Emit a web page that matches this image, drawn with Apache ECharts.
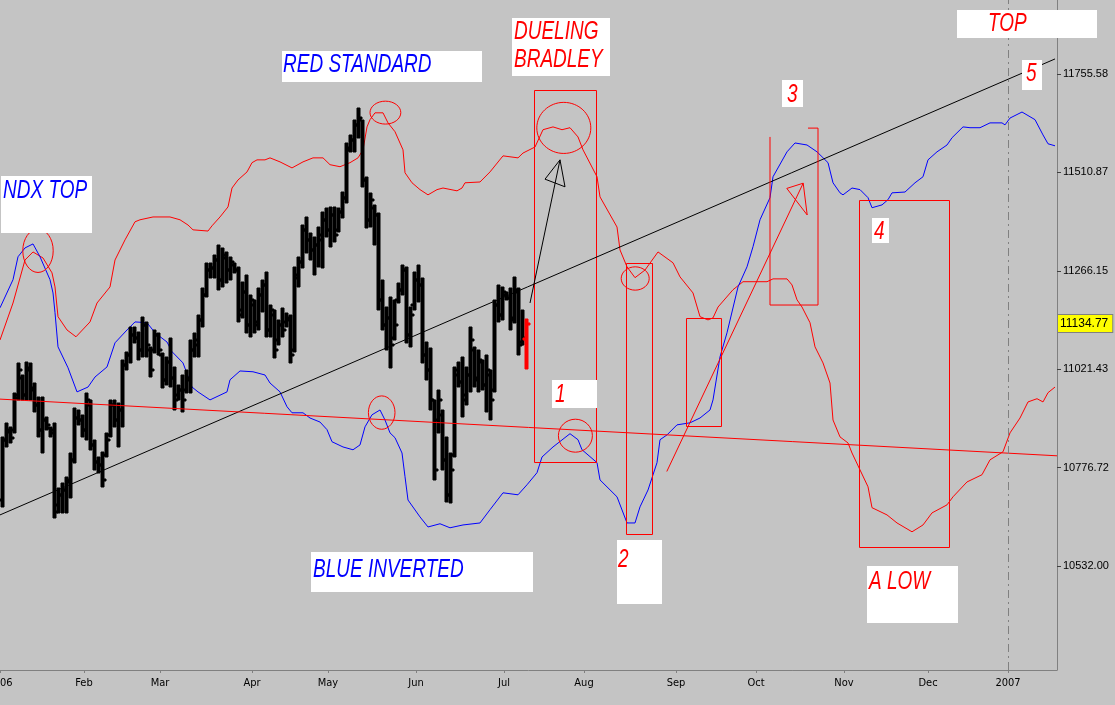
<!DOCTYPE html>
<html><head><meta charset="utf-8">
<script src="https://cdn.jsdelivr.net/npm/echarts@6/dist/echarts.min.js"></script>
<style>html,body{margin:0;padding:0;background:#c4c4c4;}#c{width:1115px;height:705px;}</style>
</head><body><div id="c"></div>
<script>
// ---- axis ticks ----
const tickDays = [-1, 20, 39, 62, 81, 103, 125, 145, 168, 188, 210, 231, 251];
const tickLabels = ['2006','Feb','Mar','Apr','May','Jun','Jul','Aug','Sep','Oct','Nov','Dec','2007'];
const priceTicks = [10532.00, 10776.72, 11021.43, 11266.15, 11510.87, 11755.58];
const lastClose = 11134.77;
const firstBarDay = -1;
// ---- daily OHLC (Dow, Dec 30 2005 .. Jul 11 2006) ----
const opens = [10697,10846,10866,10871,10958,11000,10958,11020,10975,10933,10871,10895,10876,10871,10684,10709,10721,10746,10796,10900,
10895,10871,10933,10833,10791,10784,10808,10858,10933,10895,10920,11032,11057,11107,11099,11070,11132,11070,11070,11107,
11057,10995,11040,11000,10958,10970,10970,10995,11070,11082,11144,11206,11269,11274,11293,11244,11298,11269,11281,11269,
11169,11214,11132,11181,11139,11206,11231,11119,11157,11094,11132,11139,11144,11070,11249,11288,11368,11343,11318,11331,
11343,11393,11368,11405,11368,11413,11448,11572,11592,11629,11642,11492,11393,11423,11405,11194,11132,11149,11099,11194,
11219,11269,11107,11181,11244,11231,11057,11020,10945,10895,10908,10796,10709,10808,11020,10990,10958,11007,11070,11000,
11040,10983,11007,10970,11181,11157,11206,11199,11149,11214,11089,11097];
const highs = [10853,10888,10878,10963,11037,11007,11040,11037,10987,10953,10953,10903,10878,10888,10726,10739,10754,10813,10925,10920,
10908,10963,10945,10846,10803,10816,10863,10945,10945,10938,11045,11065,11127,11127,11114,11152,11139,11077,11119,11112,
11062,11052,11099,11027,10983,11007,11020,11094,11112,11157,11224,11286,11286,11306,11331,11323,11313,11301,11286,11276,
11239,11256,11206,11194,11224,11244,11264,11181,11169,11144,11174,11162,11157,11276,11301,11380,11400,11360,11351,11375,
11413,11423,11425,11425,11423,11462,11584,11604,11642,11671,11642,11500,11460,11430,11410,11244,11176,11201,11194,11236,
11281,11276,11176,11264,11281,11249,11089,11075,10945,10970,10920,10853,10813,11027,11040,11052,11027,11127,11077,11070,
11045,11057,11020,11194,11231,11226,11214,11224,11251,11224,11169,11147];
const lows = [10679,10828,10838,10863,10945,10945,10945,10945,10915,10853,10813,10871,10853,10652,10664,10664,10664,10701,10789,10883,
10853,10846,10821,10771,10764,10729,10803,10853,10878,10828,10878,11020,11037,11087,11045,11052,11052,11002,11062,11057,
10975,10983,10978,10920,10945,10915,10963,10963,11052,11052,11127,11201,11249,11249,11219,11226,11236,11244,11261,11139,
11149,11112,11102,11112,11119,11164,11102,11102,11050,11082,11102,11127,11037,11065,11226,11273,11311,11293,11256,11276,
11273,11351,11326,11338,11363,11398,11435,11562,11562,11597,11475,11373,11375,11331,11169,11119,11070,11025,11094,11186,
11206,11087,11077,11169,11189,11037,10995,10920,10746,10863,10771,10692,10689,10803,10978,10903,10933,10965,10978,10965,
10970,10915,10895,10965,11139,11144,11194,11119,11137,11057,11082,11022];
const closes = [10846,10871,10851,10950,11020,10958,11025,10970,10933,10871,10895,10883,10863,10667,10709,10721,10741,10796,10900,10895,
10871,10945,10833,10791,10784,10746,10846,10933,10895,10920,11032,11057,11107,11099,11070,11132,11082,11020,11107,11070,
10995,11040,11000,10945,10970,10945,11000,11070,11094,11144,11206,11269,11274,11293,11244,11306,11269,11288,11269,11157,
11214,11132,11194,11132,11206,11231,11119,11169,11070,11132,11119,11149,11057,11256,11288,11368,11343,11318,11331,11356,
11393,11368,11405,11356,11413,11448,11567,11592,11629,11647,11492,11393,11443,11405,11194,11132,11149,11082,11132,11219,
11269,11107,11157,11244,11231,11057,11020,10945,10771,10945,10796,10709,10771,11007,10990,10945,11007,11094,10995,11045,
10983,11020,10945,11181,11157,11214,11199,11144,11219,11082,11099,11134.77];
// ---- Bradley siderograph, red = standard ----
const redDays = [-1,2.25,5.25,7.25,9.75,12,12.75,13.5,15.75,18,21.5,23.25,26.5,27.75,30.25,32.75,34,37.25,41.5,44,46,47.25,51,52,54,56,57,58.5,60.75,62,63.25,65.25,66.5,69,72,74.75,77.25,79.75,81.5,84,86.5,88.5,89.75,90.75,91.5,92.75,94.75,96,97.75,99.75,100.25,102,104,106,108.25,109.75,113.25,114.5,115.25,119,121.5,124.75,128.5,129.75,132.75,134.75,137.25,139.5,141.5,143.5,144.75,148.25,149,153.25,154,155.75,157.75,160.25,163.5,167.25,169,172.25,174,176,177.25,178.5,182.25,184.75,190.75,192.25,195.75,197,198.25,199.5,201.5,202.75,204.75,206.5,207.25,209,211,212,214,216,217,220.75,223.25,227,229.75,232,235.75,237.25,240.75,244.5,246.5,249.75,251.5,254,256,258.25,259.75,261,262.75];
const redVals = [11094,11186,11293,11313,11298,11261,11226,11152,11119,11102,11139,11186,11226,11293,11343,11388,11393,11400,11400,11393,11380,11368,11365,11378,11400,11425,11472,11492,11512,11535,11542,11542,11547,11537,11522,11537,11547,11547,11530,11525,11535,11547,11567,11624,11642,11659,11659,11634,11612,11567,11510,11485,11468,11455,11468,11472,11465,11472,11485,11487,11512,11552,11547,11559,11574,11617,11624,11617,11622,11599,11567,11500,11450,11375,11318,11276,11249,11268,11313,11286,11251,11211,11152,11144,11149,11176,11219,11239,11239,11246,11246,11231,11194,11176,11137,11077,11037,10987,10895,10853,10838,10813,10771,10729,10677,10659,10639,10617,10634,10664,10684,10704,10741,10759,10796,10816,10863,10900,10940,10948,10940,10963,10977];
// ---- blue = inverted ----
const blueDays = [-1,2.25,3.5,5.25,7.25,9,11.5,12.25,12.75,13.5,16,18.25,21,22.75,25.75,27.75,30.75,32.75,35.75,37.75,40.75,42,44.75,47,48.5,51.5,55.75,56.5,59,62.25,65.25,66.5,69,70.75,72,74.75,76.5,79,80.75,82,84.75,87.25,89,90.25,92,94,95.25,96.5,97.75,99.5,100.25,101,104,106,109,111.5,114.75,119,121.5,124.75,128.5,130.75,133.25,134.5,137.25,141.5,143.5,144.5,148.25,149,153.25,155.75,157.75,159,161,163.25,164,165.75,168.25,171.5,174,176.5,177.25,179,180.75,183.5,185.75,187.25,189,191.5,192.25,195.75,197.75,200.75,203.25,206,207.25,209,209.75,212,214,216,217,219.5,221,222,225.25,227.75,229.75,231,233.25,235.75,237,239.75,241.5,244,246.5,249.5,250.25,251.5,254.5,257.75,259.75,261,262.75];
const blueVals = [11174,11244,11301,11323,11333,11301,11244,11211,11162,11077,11025,10965,10977,11002,11027,11087,11119,11139,11137,11112,11089,11065,11037,10977,10965,10945,10965,10995,11017,11015,11007,10987,10965,10928,10913,10913,10900,10890,10871,10841,10828,10821,10833,10878,10908,10920,10895,10863,10851,10813,10754,10696,10654,10629,10637,10627,10634,10639,10672,10714,10709,10734,10764,10803,10828,10861,10846,10821,10789,10746,10704,10639,10639,10679,10721,10789,10846,10858,10883,10888,10900,10920,10945,11052,11112,11226,11276,11326,11393,11448,11500,11562,11584,11579,11562,11535,11485,11460,11455,11472,11468,11448,11423,11430,11443,11460,11462,11485,11500,11542,11562,11579,11597,11624,11622,11622,11634,11634,11629,11646,11661,11642,11604,11582,11577];
// ---- hand-drawn annotations, in chart units [day, price] ----
const blackTrend = [[-1, 10659], [262.75, 11793]];
const redTrend = [[-1, 10947], [263.25, 10806]];
const boxes = [[132.5,11716,148,10791],[155.5,11286,162,10612],[170.5,11149,179.25,10880],[213.75,11442,236.25,10579]];
const openBox3 = [[191.5,11599],[191.5,11181],[203.5,11181],[203.5,11621],[201,11621]];
const rings = [[4.7,11370,12.3,11262],[91.5,11688,99.2,11631],[133.2,11685,146.7,11558],[138.6,10897,147.1,10815],[154.3,11276,161.3,11218],[91.1,10955,97.75,10872]];
const blackArrow = [[131.5,11186],[139,11542],[135.25,11494],[140.25,11475],[139,11542]];
const redArrow = [[165.7,10767],[199.8,11484],[195.7,11471],[200.8,11405],[199.8,11484]];

const barData = opens.map((o, i) => [firstBarDay + i, o, highs[i], lows[i], closes[i]]);
const lastIdx = barData.length - 1;
const zip = (a, b) => a.map((d, i) => [d, b[i]]);

const chart = echarts.init(document.getElementById('c'), null, {renderer: 'canvas'});
const FONT = "'Liberation Sans', Arial, sans-serif";
function note(x, y, w, h, lines, color, tx, ty) {
  const els = [{type: 'rect', x: x, y: y, shape: {x: 0, y: 0, width: w, height: h}, style: {fill: '#ffffff'}, z: 100}];
  lines.forEach((t, k) => els.push({type: 'text', x: tx, y: ty + k * 28, scaleX: 1, scaleY: 1.4, z: 101,
    style: {text: t, fill: color, font: 'italic 19px ' + FONT, textVerticalAlign: 'top', textAlign: 'left'}}));
  return els;
}
const graphics = [].concat(
  note(1, 176, 91, 57, ['NDX TOP'], '#0000ff', 3, 177),
  note(282, 51, 200, 31, ['RED STANDARD'], '#0000ff', 283, 51),
  note(512, 18, 98, 58, ['DUELING', 'BRADLEY'], '#ff0000', 514, 18),
  note(957, 10, 140, 28, ['TOP'], '#ff0000', 988, 10),
  note(1022, 60, 20, 30, ['5'], '#ff0000', 1026, 60),
  note(782, 80, 21, 27, ['3'], '#ff0000', 787, 81),
  note(552, 380, 45, 28, ['1'], '#ff0000', 555, 381),
  note(617, 540, 45, 64, ['2'], '#ff0000', 618, 546),
  note(872, 218, 17, 25, ['4'], '#ff0000', 874, 218),
  note(311, 552, 222, 40, ['BLUE INVERTED'], '#0000ff', 313, 556),
  note(867, 566, 91, 57, ['A LOW'], '#ff0000', 869, 568)
);

chart.setOption({
  animation: false,
  backgroundColor: '#c4c4c4',
  grid: {left: 0, right: 58, top: 0, bottom: 35, containLabel: false, outerBoundsMode: 'none'},
  xAxis: {
    type: 'value', min: -1, max: 263.25,
    axisLine: {show: true, onZero: false, lineStyle: {color: '#808080', width: 1}},
    axisTick: {show: true, length: 3, customValues: tickDays, lineStyle: {color: '#808080'}},
    axisLabel: {customValues: tickDays, formatter: v => tickLabels[tickDays.indexOf(v)] || '',
      color: '#000', fontSize: 11, fontFamily: "'Liberation Sans Narrow','DejaVu Sans Condensed','Liberation Sans',sans-serif", margin: 8},
    splitLine: {show: false}
  },
  yAxis: {
    type: 'value', position: 'right', min: 10273.3, max: 11939.6,
    axisLine: {show: true, onZero: false, lineStyle: {color: '#808080', width: 1}},
    axisTick: {show: true, length: 4, inside: false, customValues: priceTicks, lineStyle: {color: '#404040'}},
    axisLabel: {customValues: priceTicks, formatter: v => v.toFixed(2), color: '#000', fontSize: 11, fontFamily: FONT, margin: 6},
    splitLine: {show: false}
  },
  graphic: graphics,
  series: [
    {type: 'line', name: 'red', data: zip(redDays, redVals), showSymbol: false, symbol: 'none',
     lineStyle: {color: '#ff0000', width: 1}, z: 2, silent: true},
    {type: 'line', name: 'blue', data: zip(blueDays, blueVals), showSymbol: false, symbol: 'none',
     lineStyle: {color: '#0000ff', width: 1}, z: 2, silent: true},
    {type: 'custom', name: 'ohlc', data: barData, z: 3, silent: true,
     encode: {x: 0, y: [1, 2, 3, 4]},
     renderItem: function (params, api) {
       const d = api.value(0);
       const ph = api.coord([d, api.value(2)]);
       const pl = api.coord([d, api.value(3)]);
       const po = api.coord([d, api.value(1)]);
       const pc = api.coord([d, api.value(4)]);
       const cx = Math.round(ph[0]) + 1;
       const col = params.dataIndex === lastIdx ? '#ff0000' : '#000000';
       const yh = Math.round(ph[1]), yl = Math.round(pl[1]);
       const st = {fill: col, stroke: col, lineWidth: 1};
       return {type: 'group', children: [
         {type: 'rect', shape: {x: cx, y: yh, width: 3, height: Math.max(1, yl - yh)}, style: st},
         {type: 'rect', shape: {x: cx - 2, y: Math.round(po[1]) - 1, width: 2, height: 2}, style: st},
         {type: 'rect', shape: {x: cx + 3, y: Math.round(pc[1]) - 1, width: 2, height: 2}, style: st}
       ]};
     },
     markLine: {silent: true, symbol: ['none', 'none'], animation: false,
       data: [
         {yAxis: lastClose, lineStyle: {color: 'rgba(0,0,0,0)', width: 1},
          label: {show: true, position: 'end', distance: 1, formatter: '11134.77', color: '#000', fontSize: 12, fontFamily: FONT,
                  backgroundColor: '#ffff00', borderColor: '#808080', borderWidth: 1, padding: [3, 4, 2, 2]}},
         {xAxis: tickDays[12], lineStyle: {color: '#808080', width: 1, type: [8, 4, 2, 4]}, label: {show: false}}
       ]}
    },
    {type: 'line', name: 'blackTrend', data: blackTrend, showSymbol: false, symbol: 'none',
     lineStyle: {color: '#000000', width: 1}, z: 4, silent: true},
    {type: 'line', name: 'redTrend', data: redTrend, showSymbol: false, symbol: 'none',
     lineStyle: {color: '#ff0000', width: 1}, z: 4, silent: true},
    {type: 'line', name: 'box3', data: openBox3, showSymbol: false, symbol: 'none',
     lineStyle: {color: '#ff0000', width: 1}, z: 4, silent: true},
    {type: 'line', name: 'blackArrow', data: blackArrow, showSymbol: false, symbol: 'none',
     lineStyle: {color: '#000000', width: 1}, z: 4, silent: true},
    {type: 'line', name: 'redArrow', data: redArrow, showSymbol: false, symbol: 'none',
     lineStyle: {color: '#ff0000', width: 1}, z: 4, silent: true},
    {type: 'custom', name: 'boxes', data: boxes, z: 4, silent: true, encode: {x: [0, 2], y: [1, 3]},
     renderItem: function (params, api) {
       const a = api.coord([api.value(0), api.value(1)]);
       const b = api.coord([api.value(2), api.value(3)]);
       return {type: 'rect', shape: {x: Math.round(a[0]) + 0.5, y: Math.round(a[1]) + 0.5,
         width: Math.round(b[0] - a[0]), height: Math.round(b[1] - a[1])},
         style: {fill: 'none', stroke: '#ff0000', lineWidth: 1}};
     }},
    {type: 'custom', name: 'rings', data: rings, z: 4, silent: true, encode: {x: [0, 2], y: [1, 3]},
     renderItem: function (params, api) {
       const a = api.coord([api.value(0), api.value(1)]);
       const b = api.coord([api.value(2), api.value(3)]);
       return {type: 'ellipse', shape: {cx: (a[0] + b[0]) / 2, cy: (a[1] + b[1]) / 2,
         rx: Math.abs(b[0] - a[0]) / 2, ry: Math.abs(b[1] - a[1]) / 2},
         style: {fill: 'none', stroke: '#ff0000', lineWidth: 1}};
     }}
  ]
});
</script></body></html>
